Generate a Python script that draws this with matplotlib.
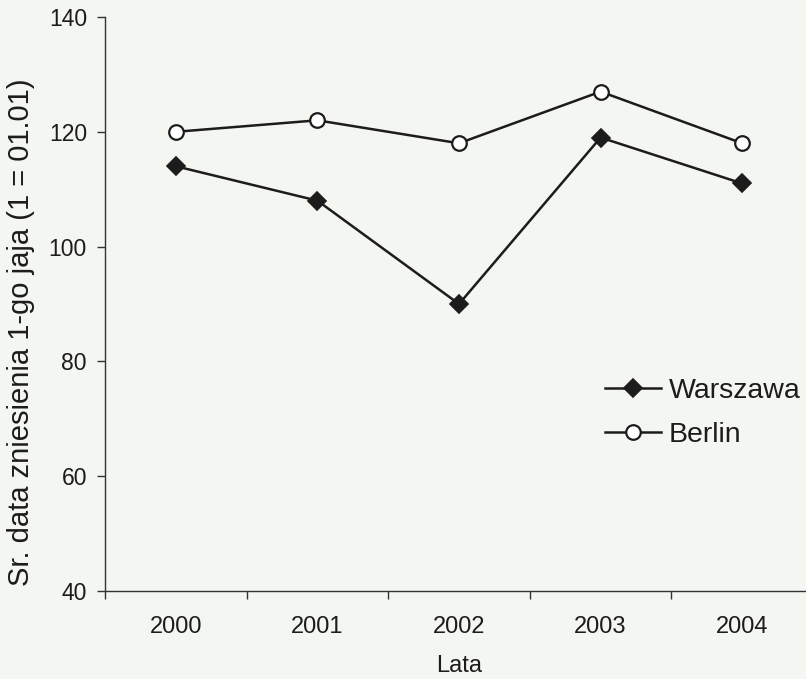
import matplotlib
matplotlib.use("Agg")
import matplotlib.pyplot as plt
import numpy as np

# Mean laying date of the first egg (day of year, 1 = 1 Jan)
years = ["2000", "2001", "2002", "2003", "2004"]
warszawa = [114, 108, 90, 119, 111]
berlin = [120, 122, 118, 127, 118]
y_ticks = [40, 60, 80, 100, 120, 140]

plt.rcParams["font.family"] = ["Liberation Sans", "DejaVu Sans"]
bg = "#f3f6f1"
ink = "#1c1c1c"

fig = plt.figure(figsize=(8.06, 6.79), dpi=100, facecolor=bg)
W, H = 806, 679
left, right, top, bottom = 105, 813, 17, 591
ax = fig.add_axes([left / W, 1 - bottom / H, (right - left) / W, (bottom - top) / H])
ax.set_facecolor(bg)

x = np.arange(len(years))
ax.plot(x, warszawa, color=ink, lw=1.8, marker="D", ms=9, solid_joinstyle="miter",
        mfc=ink, mec=ink, mew=1.2, label="Warszawa", clip_on=False)
ax.plot(x, berlin, color=ink, lw=1.8, marker="o", ms=10.5, solid_joinstyle="miter",
        mfc="white", mec=ink, mew=1.6, label="Berlin", clip_on=False)

ax.set_xlim(-0.5, len(years) - 0.5)
ax.set_ylim(40, 140)
ax.set_yticks(y_ticks)
ax.set_xticks(x)
ax.set_xticklabels(years)
ax.set_xticks(np.arange(-0.5, len(years)), minor=True)

for s in ("top", "right"):
    ax.spines[s].set_visible(False)
for s in ("left", "bottom"):
    ax.spines[s].set_color("#333333")
    ax.spines[s].set_linewidth(1.0)

ax.tick_params(axis="y", direction="out", length=6, width=1.0, color="#333333",
               labelsize=16.5, labelcolor=ink, pad=7)
ax.tick_params(axis="x", which="major", length=0, labelsize=17, labelcolor=ink, pad=18)
ax.tick_params(axis="x", which="minor", direction="out", length=6, width=1.0, color="#333333")

ax.set_xlabel("Lata", fontsize=17, color=ink, labelpad=12)
fig.text(21 / W, 1 - 332 / H, "Sr. data zniesienia 1-go jaja (1 = 01.01)",
         rotation=90, ha="center", va="center", fontsize=21, color=ink)

fig.legend(loc="center left", bbox_to_anchor=(605 / W, 1 - 413 / H), frameon=False,
           fontsize=20.5, handlelength=1.95, handletextpad=0.3, labelspacing=0.62,
           borderpad=0, borderaxespad=0, labelcolor=ink)

fig.savefig("out.png", dpi=100, facecolor=bg)
